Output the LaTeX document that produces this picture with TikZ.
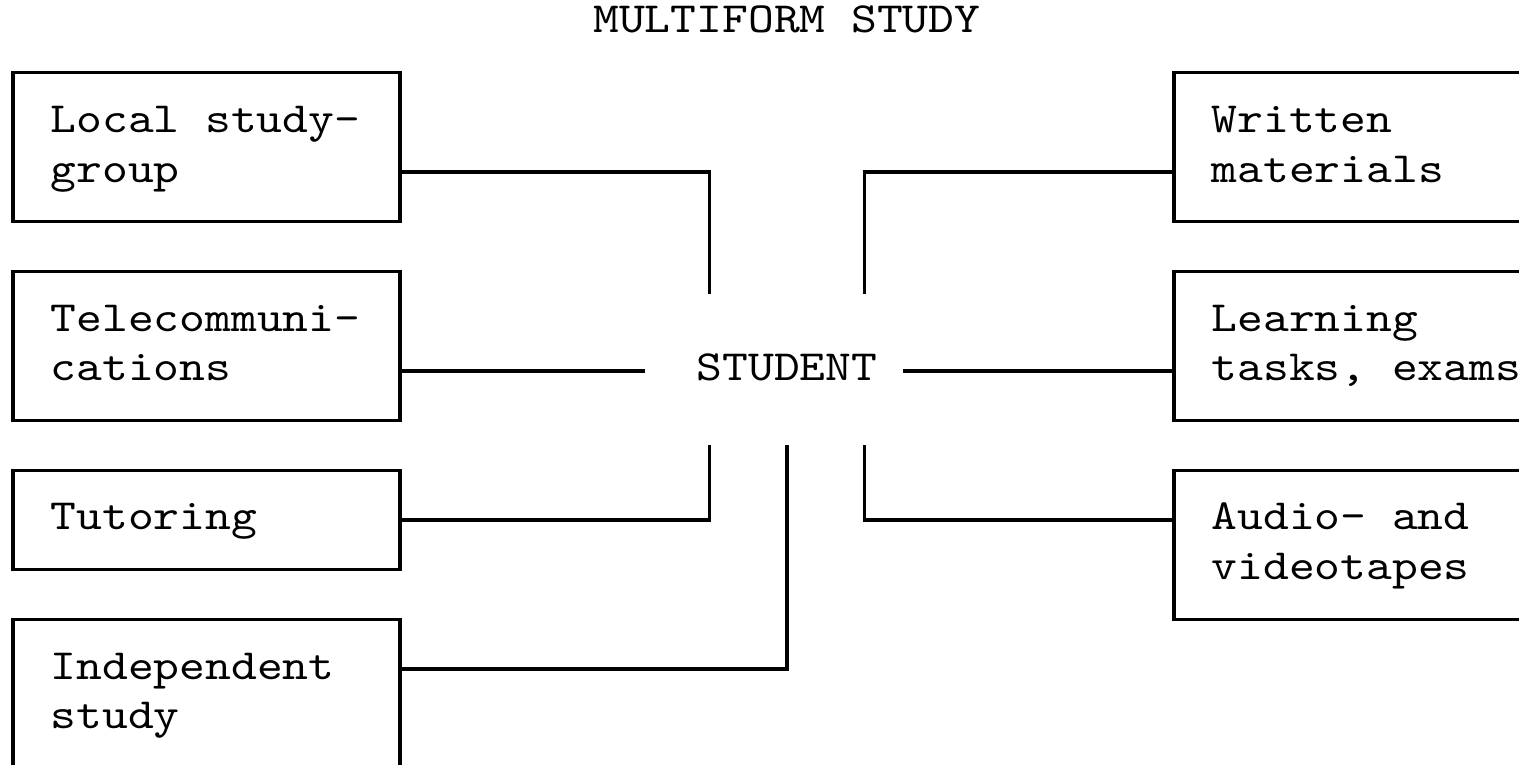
\documentclass[tikz,border=0pt]{standalone}
\usepackage{fontspec}
\setmonofont[FakeStretch=1.143]{lmmono10-regular.otf}
\usetikzlibrary{positioning,calc}

\newcommand{\gridfont}{\ttfamily\fontsize{43}{49.7}\selectfont\frenchspacing\spaceskip=25.8pt\relax}

\tikzset{
  card/.style={draw, rectangle, line width=3.3pt, outer sep=0pt, inner ysep=0pt,
    inner xsep=37.7pt, minimum width=387pt, text width=311.6pt, align=left,
    anchor=north west, font=\gridfont,
    execute at begin node={\spaceskip=25.8pt\relax\strut}, execute at end node=\strut},
  word/.style={inner sep=0pt, font=\gridfont, execute at begin node=\strut},
  link/.style={line width=3.3pt, line join=miter},
}

\begin{document}
\begin{tikzpicture}[x=25.8pt, y=-49.7pt]
    \clip (0pt,0pt) rectangle (1519pt,-765pt);

    % Title
    \node[word] (title) at (30.5,0.463) {MULTIFORM STUDY};

    % Left column
    \node[card, minimum height=149.1pt] (local) at (0.5,1.463) {Local study-\\group};
    \node[card, minimum height=149.1pt, below=49.7pt of local] (tele) {Telecommuni-\\cations};
    \node[card, minimum height=99.4pt, below=49.7pt of tele] (tutor) {Tutoring};
    \node[card, minimum height=149.1pt, below=49.7pt of tutor] (indep) {Independent\\study};

    % Right column
    \node[card, minimum height=149.1pt] (written) at (45.5,1.463) {Written\\materials};
    \node[card, minimum height=149.1pt, below=49.7pt of written] (tasks) {Learning\\tasks, exams};
    \node[card, minimum height=149.1pt, below=49.7pt of tasks] (tapes) {Audio- and\\videotapes};

    % Centre
    \node[word] (student) at (30.5,7.463) {STUDENT};

    % Free ends of the stubs
    \coordinate (upleft) at (27.5,5.915);
    \coordinate (upright) at (33.5,5.915);
    \coordinate (lowleft) at (27.5,8.954);
    \coordinate (lowmid) at (30.5,8.954);
    \coordinate (lowright) at (33.5,8.954);

    % Connectors
    \draw[link] ([yshift=-24.85pt]local.east) -| (upleft);
    \draw[link, shorten >=51.6pt] (tele.east |- student.west) -- (student.west);
    \draw[link] (tutor.east) -| (lowleft);
    \draw[link] ([yshift=24.85pt]indep.east) -| (lowmid);

    \draw[link] (upright) |- ([yshift=-24.85pt]written.west);
    \draw[link, shorten <=25.8pt] (student.east) -- (tasks.west |- student.east);
    \draw[link] (lowright) |- ([yshift=24.85pt]tapes.west);
\end{tikzpicture}
\end{document}
